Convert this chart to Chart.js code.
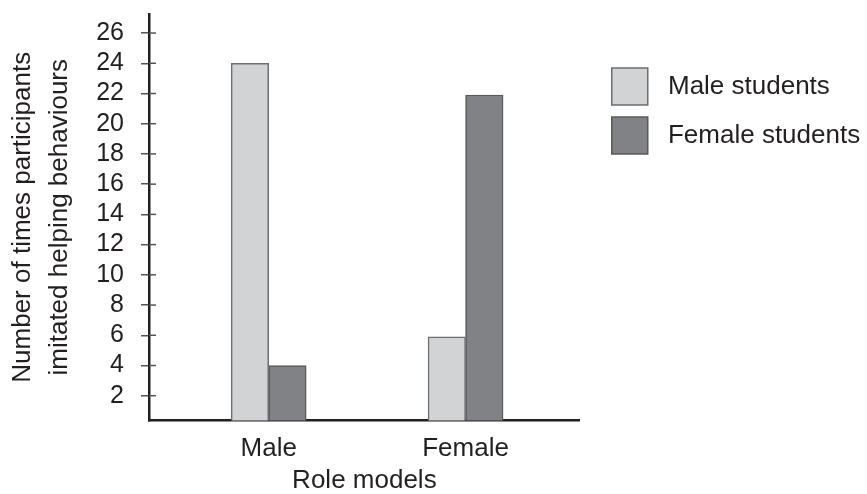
<!DOCTYPE html>
<html>
<head>
<meta charset="utf-8">
<script src="https://cdn.jsdelivr.net/npm/chart.js@4"></script>
<style>
    html, body { margin: 0; padding: 0; background: #fff; }
    #wrap { width: 867px; height: 494px; }
</style>
</head>
<body>
<div id="wrap"><canvas id="roleChart"></canvas></div>
<script>
// Data
const roleModels = ['Male', 'Female'];
const maleStudents = [24, 5.9];
const femaleStudents = [4, 21.9];
const yTicks = [2, 4, 6, 8, 10, 12, 14, 16, 18, 20, 22, 24, 26];

const FONT = "'Liberation Sans', Arial, sans-serif";
const INK = '#231f20';

// Tick marks cross the y axis: draw the part inside the plot
const crossTicks = {
    id: 'crossTicks',
    afterDraw(chart) {
        const y = chart.scales.y;
        const ctx = chart.ctx;
        const x0 = chart.chartArea.left;
        ctx.save();
        ctx.strokeStyle = '#555557';
        ctx.lineWidth = 1.5;
        y.ticks.forEach(t => {
            const py = y.getPixelForValue(t.value);
            ctx.beginPath();
            ctx.moveTo(x0, py);
            ctx.lineTo(x0 + 7, py);
            ctx.stroke();
        });
        ctx.restore();
    }
};

// Legend sits a bit away from the plot, lower down
const legendShift = {
    id: 'legendShift',
    afterLayout(chart) {
        const lg = chart.legend;
        lg.left = chart.chartArea.right + 20;
        lg.right = chart.width;
        lg.top += 42;
        lg.bottom += 42;
    }
};

const ctx = document.getElementById('roleChart').getContext('2d');
const roleChart = new Chart(ctx, {
    type: 'bar',
    data: {
        datasets: [
            {
                label: 'Male students',
                data: maleStudents.map((v, i) => ({ x: i + 1, y: v })),
                backgroundColor: '#d1d3d4',
                borderColor: '#6d6e71',
                borderWidth: 1.5
            },
            {
                label: 'Female students',
                data: femaleStudents.map((v, i) => ({ x: i + 1, y: v })),
                backgroundColor: '#808285',
                borderColor: '#58595b',
                borderWidth: 1.5
            }
        ]
    },
    options: {
        responsive: true,
        maintainAspectRatio: false,
        animation: false,
        barThickness: 37.5,
        layout: { padding: { left: 0, right: 94, top: 14, bottom: 0 } },
        plugins: {
            tooltip: { enabled: false },
            legend: {
                position: 'right',
                align: 'start',
                labels: {
                    boxWidth: 36,
                    boxHeight: 37,
                    padding: 12,
                    color: INK,
                    font: { family: FONT, size: 26 },
                    // a little more room between swatch and text
                    generateLabels: chart => Chart.defaults.plugins.legend.labels.generateLabels(chart)
                        .map(item => ({ ...item, text: ' ' + item.text }))
                }
            }
        },
        scales: {
            x: {
                type: 'linear',
                min: 0.392,
                max: 2.58,
                offset: false,
                bounds: 'data',
                z: 1,
                afterBuildTicks: s => { s.ticks = roleModels.map((c, i) => ({ value: i + 1 })); },
                afterFit: s => { s.height = 73.5; s.paddingLeft = 0; s.paddingRight = 0; },
                grid: { display: false, offset: false },
                border: { display: true, color: INK, width: 2.5 },
                ticks: {
                    padding: 5,
                    color: INK,
                    maxRotation: 0,
                    autoSkip: false,
                    font: { family: FONT, size: 26 },
                    callback: v => roleModels[v - 1]
                },
                title: {
                    display: true,
                    text: 'Role models',
                    color: INK,
                    font: { family: FONT, size: 26, lineHeight: 1 },
                    padding: 0
                }
            },
            y: {
                min: 0.36,
                max: 27.26,
                z: 1,
                afterBuildTicks: s => { s.ticks = yTicks.map(v => ({ value: v })); },
                afterFit: s => { s.width = 149; s.paddingTop = 0; s.paddingBottom = 0; },
                grid: {
                    drawOnChartArea: false,
                    drawTicks: true,
                    tickLength: 8,
                    color: '#555557',
                    lineWidth: 1.5
                },
                border: { display: true, color: INK, width: 2.5 },
                ticks: {
                    padding: 17,
                    autoSkip: false,
                    color: INK,
                    font: { family: FONT, size: 25 }
                },
                title: {
                    display: true,
                    text: ['Number of times participants', 'imitated helping behaviours'],
                    color: INK,
                    font: { family: FONT, size: 26, lineHeight: 1.42 },
                    padding: { top: 4, bottom: 0 }
                }
            }
        }
    },
    plugins: [crossTicks, legendShift]
});
</script>
</body>
</html>
